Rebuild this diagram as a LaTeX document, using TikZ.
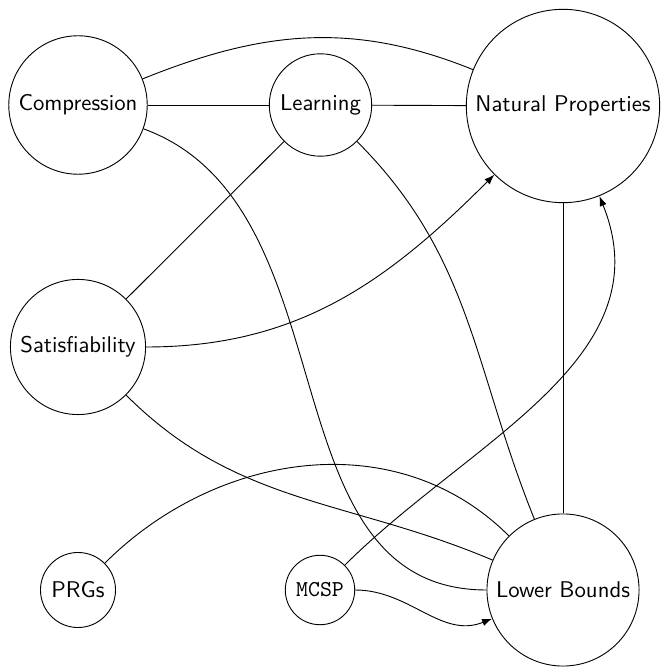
\documentclass[tikz,border=0pt]{standalone}
\usepackage{fontspec}
\usetikzlibrary{arrows.meta}
\begin{document}
\begin{tikzpicture}[x=0.4396pt,y=0.4396pt,
  topic/.style={circle,draw,font=\sffamily},
  code/.style={circle,draw,font=\ttfamily},
  arr/.style={-{Latex[length=4.4pt,width=3.2pt]}}]
\useasboundingbox (0,0) rectangle (660,668);
\node[topic] (comp)  at (78,563)    {Compression};
\node[topic] (learn) at (320.5,563) {Learning};
\node[topic] (nat)   at (563,562)   {Natural Properties};
\node[topic] (sat)   at (78,321)    {Satisfiability};
\node[topic] (prg)   at (78,78)     {PRGs};
\node[code]  (mcsp)  at (320,78)    {MCSP};
\node[topic] (lb)    at (563,78)    {Lower Bounds};
\draw (comp) -- (learn);
\draw (learn) -- (nat);
\draw (comp) to[out=22,in=158] (nat);
\draw (comp) to[out=-20,in=180] (lb);
\draw (learn) -- (sat);
\draw (learn) to[out=-45,in=112] (lb);
\draw[arr] (sat) to[out=0,in=225] (nat);
\draw (sat) to[out=-45,in=157] (lb);
\draw (prg) to[out=45,in=135] (lb);
\draw[arr] (mcsp) to[out=45,in=-68] (nat);
\draw[arr] (mcsp) to[out=0,in=202] (lb);
\draw (nat) -- (lb);
\end{tikzpicture}
\end{document}
